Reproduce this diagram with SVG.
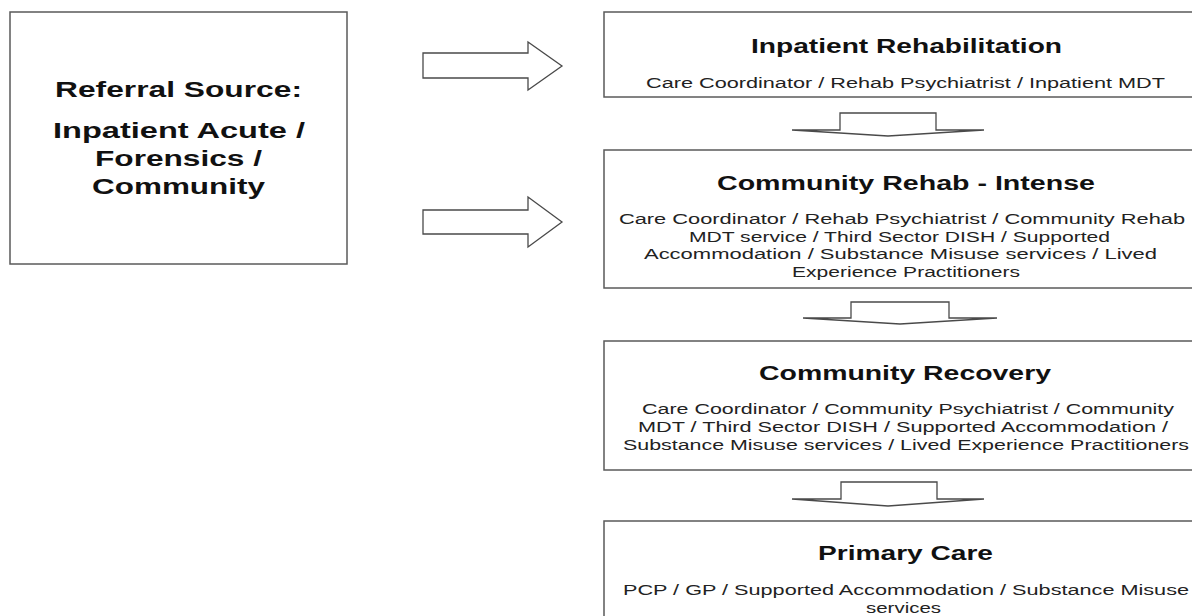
<svg xmlns="http://www.w3.org/2000/svg" width="1192" height="616" viewBox="0 0 1192 616">
<style>
.box{fill:#fff;stroke:#5a5a5a;stroke-width:1.5}
.arr{fill:#fff;stroke:#4a4a4a;stroke-width:1.3;stroke-linejoin:miter}
.src{font-family:"Liberation Sans",Arial,sans-serif;font-weight:bold;font-size:22px;fill:#111;text-anchor:middle}
.ttl{font-family:"Liberation Sans",Arial,sans-serif;font-weight:bold;font-size:20px;fill:#111;text-anchor:middle}
.sub{font-family:"Liberation Sans",Arial,sans-serif;font-size:15px;fill:#222;text-anchor:middle}
</style>
<rect width="1192" height="616" fill="#fff"/>
<g id="referral-source">
<rect class="box" x="10" y="12" width="337" height="252"/>
<text class="src" transform="translate(178.5,97) scale(1.45,1)" textLength="170.3" lengthAdjust="spacingAndGlyphs">Referral Source:</text>
<text class="src" transform="translate(179,138) scale(1.45,1)" textLength="173.8" lengthAdjust="spacingAndGlyphs">Inpatient Acute /</text>
<text class="src" transform="translate(178.5,166) scale(1.45,1)" textLength="115.2" lengthAdjust="spacingAndGlyphs">Forensics /</text>
<text class="src" transform="translate(178.5,194) scale(1.45,1)" textLength="119.3" lengthAdjust="spacingAndGlyphs">Community</text>
</g>
<g id="inpatient-rehabilitation">
<rect class="box" x="604" y="12" width="620" height="85"/>
<text class="ttl" transform="translate(906.5,53) scale(1.42,1)" textLength="219" lengthAdjust="spacingAndGlyphs">Inpatient Rehabilitation</text>
<text class="sub" transform="translate(905.5,88) scale(1.44,1)" textLength="360.4" lengthAdjust="spacingAndGlyphs">Care Coordinator / Rehab Psychiatrist / Inpatient MDT</text>
</g>
<g id="community-rehab-intense">
<rect class="box" x="604" y="150" width="620" height="138"/>
<text class="ttl" transform="translate(906,190) scale(1.42,1)" textLength="266.2" lengthAdjust="spacingAndGlyphs">Community Rehab - Intense</text>
<text class="sub" transform="translate(902,224) scale(1.44,1)" textLength="393.1" lengthAdjust="spacingAndGlyphs">Care Coordinator / Rehab Psychiatrist / Community Rehab</text>
<text class="sub" transform="translate(899.5,241.5) scale(1.44,1)" textLength="292.4" lengthAdjust="spacingAndGlyphs">MDT service / Third Sector DISH / Supported</text>
<text class="sub" transform="translate(900.5,259) scale(1.44,1)" textLength="356.3" lengthAdjust="spacingAndGlyphs">Accommodation / Substance Misuse services / Lived</text>
<text class="sub" transform="translate(906,276.5) scale(1.44,1)" textLength="158.3" lengthAdjust="spacingAndGlyphs">Experience Practitioners</text>
</g>
<g id="community-recovery">
<rect class="box" x="604" y="341" width="620" height="129"/>
<text class="ttl" transform="translate(905,380) scale(1.42,1)" textLength="205.6" lengthAdjust="spacingAndGlyphs">Community Recovery</text>
<text class="sub" transform="translate(908,414) scale(1.44,1)" textLength="369.4" lengthAdjust="spacingAndGlyphs">Care Coordinator / Community Psychiatrist / Community</text>
<text class="sub" transform="translate(903,432) scale(1.44,1)" textLength="368.1" lengthAdjust="spacingAndGlyphs">MDT / Third Sector DISH / Supported Accommodation /</text>
<text class="sub" transform="translate(906,450) scale(1.44,1)" textLength="393.1" lengthAdjust="spacingAndGlyphs">Substance Misuse services / Lived Experience Practitioners</text>
</g>
<g id="primary-care">
<rect class="box" x="604" y="521" width="620" height="130"/>
<text class="ttl" transform="translate(905.5,560) scale(1.42,1)" textLength="123.2" lengthAdjust="spacingAndGlyphs">Primary Care</text>
<text class="sub" transform="translate(906,595) scale(1.44,1)" textLength="393.1" lengthAdjust="spacingAndGlyphs">PCP / GP / Supported Accommodation / Substance Misuse</text>
<text class="sub" transform="translate(903.5,612.5) scale(1.44,1)" textLength="52.1" lengthAdjust="spacingAndGlyphs">services</text>
</g>
<g id="connectors">
<polygon class="arr" points="423,53 528,53 528,42 562,66 528,90 528,78 423,78"/>
<polygon class="arr" points="423,210 528,210 528,197 562,222 528,247 528,234 423,234"/>
<polygon class="arr" points="840,113 936,113 936,130 984,130 888,136 792,130 840,130"/>
<polygon class="arr" points="851,302 949,302 949,318 997,318 900,324 803,318 851,318"/>
<polygon class="arr" points="841,482 937,482 937,499 984,499 888,506 792,499 841,499"/>
</g>
</svg>
